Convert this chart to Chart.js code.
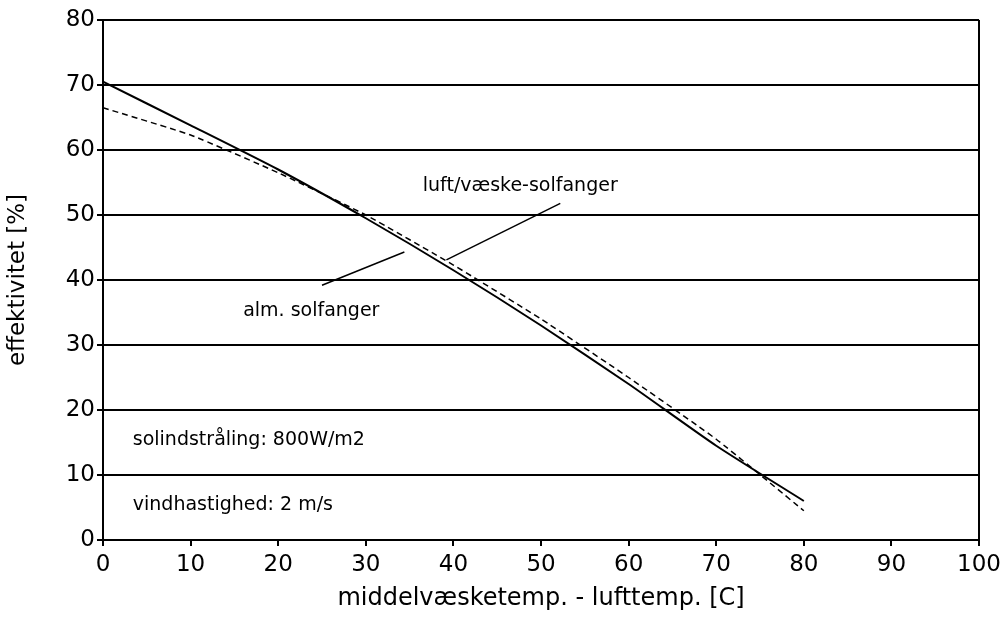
<!DOCTYPE html>
<html>
<head>
<meta charset="utf-8">
<script src="https://cdn.jsdelivr.net/npm/chart.js@4.4.0/dist/chart.umd.min.js"></script>
<style>
  html, body { margin: 0; padding: 0; background: #fff; }
  #wrap { width: 1006px; height: 618px; }
</style>
</head>
<body>
<div id="wrap"><canvas id="effChart" width="1006" height="618"></canvas></div>
<script>
// data
const tempDiff = [0, 10, 20, 30, 40, 50, 60, 70, 80];
const almSolfanger = [70.5, 63.8, 57, 49.5, 41.5, 33, 24, 14.5, 6];
const luftVaeske = [66.5, 62.3, 56.5, 50, 42.3, 34, 25, 15.5, 4.5];
const xTicks = [0, 10, 20, 30, 40, 50, 60, 70, 80, 90, 100];
const yTicks = [0, 10, 20, 30, 40, 50, 60, 70, 80];

// labels inside the plot and their leader lines (in data units)
const notes = [
  { text: 'luft/væske-solfanger', x: 36.5, y: 54.5 },
  { text: 'alm. solfanger', x: 16, y: 35.2 },
  { text: 'solindstråling: 800W/m2', x: 3.4, y: 15.4 },
  { text: 'vindhastighed: 2 m/s', x: 3.4, y: 5.4 }
];
const leaders = [
  [25, 39.2, 34.4, 44.3],
  [39.2, 43.1, 52.2, 51.8]
];

const FONT = "'DejaVu Sans', 'Liberation Sans', sans-serif";

const notesPlugin = {
  id: 'notes',
  afterDatasetsDraw(chart) {
    const { ctx, scales: { x, y } } = chart;
    ctx.save();
    ctx.strokeStyle = '#000';
    ctx.lineWidth = 1.5;
    leaders.forEach(l => {
      ctx.beginPath();
      ctx.moveTo(x.getPixelForValue(l[0]), y.getPixelForValue(l[1]));
      ctx.lineTo(x.getPixelForValue(l[2]), y.getPixelForValue(l[3]));
      ctx.stroke();
    });
    ctx.fillStyle = '#000';
    ctx.font = '19px ' + FONT;
    ctx.textAlign = 'left';
    ctx.textBaseline = 'middle';
    notes.forEach(n => {
      ctx.fillText(n.text, x.getPixelForValue(n.x), y.getPixelForValue(n.y));
    });
    ctx.restore();
  }
};

new Chart(document.getElementById('effChart'), {
  type: 'line',
  data: {
    labels: tempDiff,
    datasets: [
      {
        label: 'alm. solfanger',
        data: tempDiff.map((t, i) => ({ x: t, y: almSolfanger[i] })),
        borderColor: '#000',
        borderWidth: 2,
        pointRadius: 0,
        tension: 0.2
      },
      {
        label: 'luft/væske-solfanger',
        data: tempDiff.map((t, i) => ({ x: t, y: luftVaeske[i] })),
        borderColor: '#000',
        borderWidth: 1.5,
        borderDash: [6, 4],
        pointRadius: 0,
        tension: 0.15
      }
    ]
  },
  options: {
    responsive: false,
    animation: false,
    layout: { padding: { top: 20, right: 19, left: 0, bottom: 5 } },
    plugins: { legend: { display: false }, tooltip: { enabled: false } },
    scales: {
      x: {
        type: 'linear',
        min: 0,
        max: 100,
        afterBuildTicks: s => { s.ticks = xTicks.map(v => ({ value: v })); },
        afterFit: s => { s.height = 73; },
        grid: {
          drawOnChartArea: true,
          color: c => (c.tick && c.tick.value === 100 ? '#000' : 'rgba(0,0,0,0)'),
          lineWidth: 2,
          tickColor: '#000',
          tickLength: 6
        },
        border: { display: true, color: '#000', width: 2 },
        ticks: { color: '#000', font: { family: FONT, size: 23 }, padding: 5, maxRotation: 0 },
        title: {
          display: true,
          text: 'middelvæsketemp. - lufttemp. [C]',
          color: '#000',
          font: { family: FONT, size: 24 },
          padding: { top: 0, bottom: 0 }
        }
      },
      y: {
        min: 0,
        max: 80,
        afterBuildTicks: s => { s.ticks = yTicks.map(v => ({ value: v })); },
        afterFit: s => { s.width = 103; },
        grid: { color: '#000', lineWidth: 2, tickLength: 6 },
        border: { display: true, color: '#000', width: 2 },
        ticks: { color: '#000', font: { family: FONT, size: 23 }, padding: 2 },
        title: {
          display: true,
          text: 'effektivitet [%]',
          color: '#000',
          font: { family: FONT, size: 23 },
          padding: { bottom: 4 }
        }
      }
    }
  },
  plugins: [notesPlugin]
});
</script>
</body>
</html>
